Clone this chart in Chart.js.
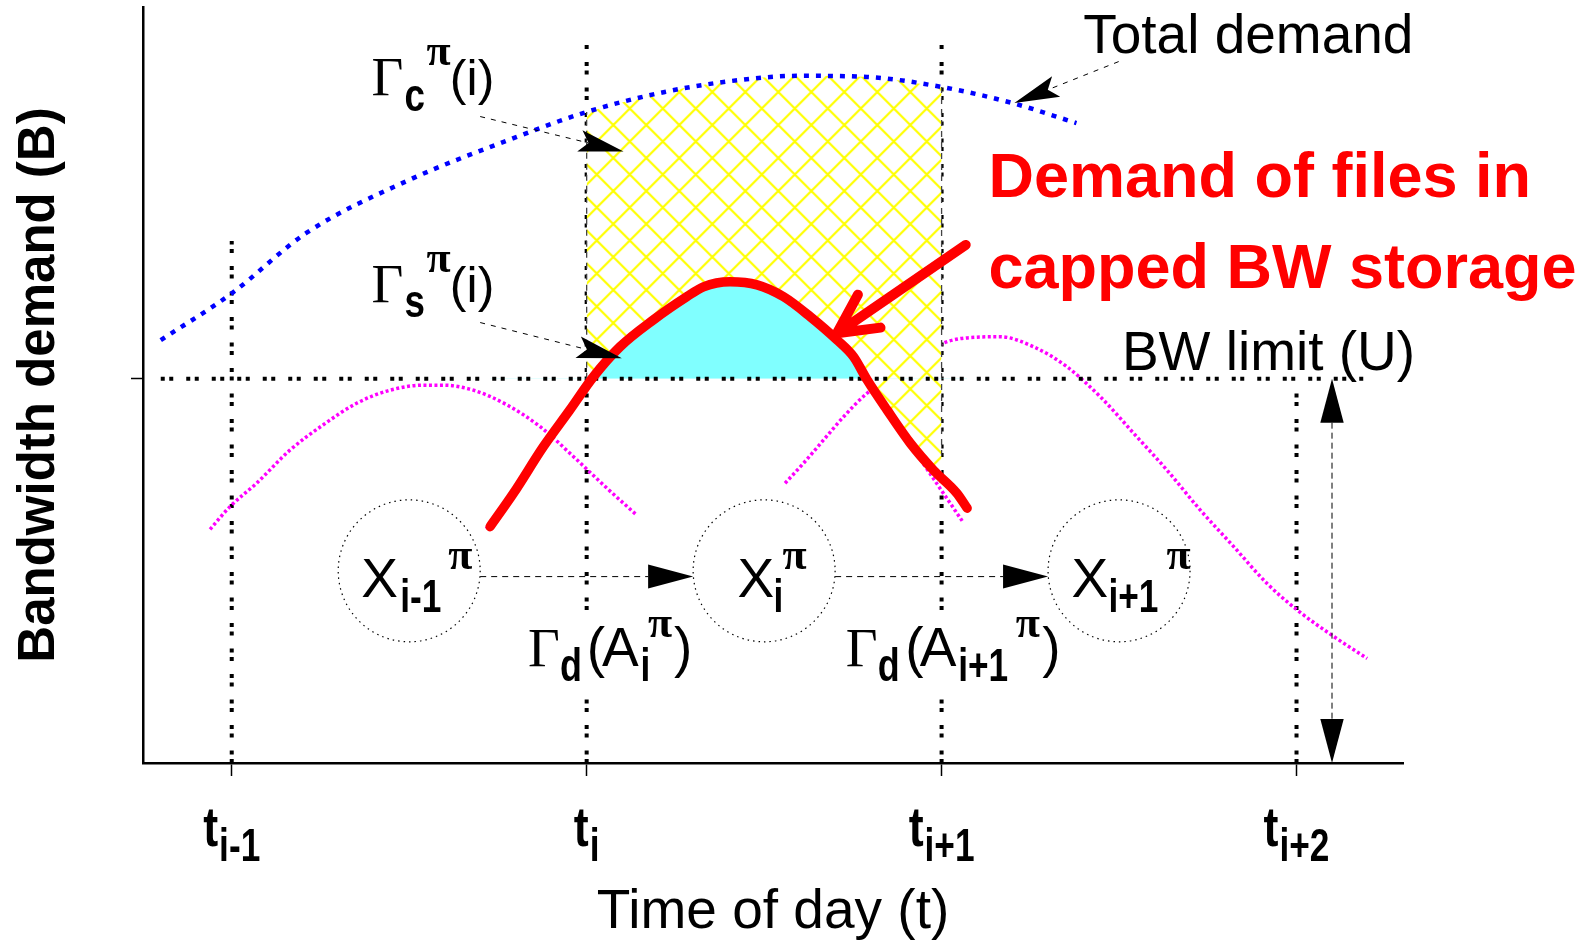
<!DOCTYPE html>
<html>
<head>
<meta charset="utf-8">
<script src="https://cdn.jsdelivr.net/npm/chart.js@4.4.1/dist/chart.umd.min.js"></script>
<style>
  html, body { margin: 0; padding: 0; background: #fff; }
  #wrap { width: 1592px; height: 944px; position: relative; }
</style>
</head>
<body>
<div id="wrap"><canvas id="chart"></canvas></div>
<script>
// x axis: time slots t_{i-1} .. t_{i+2}
const tickPositions = [1, 2, 3, 4];
const tickSubs = ['i-1', 'i', 'i+1', 'i+2'];
const bwLimit = 1;          // U
const yMax = 1.967;

// total demand (blue dotted)
const totalX = [0.80, 1.00, 1.21, 1.50, 1.78, 2.00, 2.22, 2.43, 2.60, 2.79, 3.00, 3.20, 3.38];
const totalY = [1.100, 1.222, 1.379, 1.517, 1.621, 1.694, 1.746, 1.777, 1.788, 1.785, 1.759, 1.717, 1.665];

// demand of files in capped BW storage (thick red)
const cappedX = [1.728, 1.794, 1.878, 1.953, 2.019, 2.094, 2.188, 2.282, 2.329, 2.404, 2.480, 2.555, 2.630, 2.705, 2.752, 2.790, 2.846, 2.912, 2.977, 3.043, 3.072];
const cappedY = [0.615, 0.702, 0.823, 0.919, 1.005, 1.083, 1.153, 1.213, 1.239, 1.252, 1.244, 1.213, 1.161, 1.101, 1.057, 0.997, 0.919, 0.832, 0.762, 0.702, 0.663];

// per file demand (magenta dotted)
const prevFileX = [0.939, 0.995, 1.070, 1.164, 1.258, 1.352, 1.446, 1.540, 1.596, 1.681, 1.775, 1.869, 1.963, 2.057, 2.141];
const prevFileY = [0.608, 0.667, 0.728, 0.814, 0.880, 0.936, 0.970, 0.983, 0.983, 0.970, 0.932, 0.875, 0.797, 0.715, 0.645];
const curFileX = [1.717, 1.794, 1.953, 2.094, 2.282, 2.404, 2.555, 2.705, 2.846, 2.977, 3.058];
const curFileY = [0.609, 0.702, 0.919, 1.083, 1.213, 1.252, 1.213, 1.101, 0.919, 0.740, 0.630];
const nextFileX = [2.559, 2.611, 2.667, 2.724, 2.790, 3.004, 3.100, 3.165, 3.259, 3.353, 3.447, 3.541, 3.635, 3.729, 3.823, 3.917, 4.002, 4.105, 4.199];
const nextFileY = [0.728, 0.780, 0.840, 0.901, 0.962, 1.092, 1.108, 1.109, 1.083, 1.031, 0.953, 0.858, 0.762, 0.658, 0.563, 0.467, 0.398, 0.329, 0.272];

// vertical slot lines (top end of each) and BW limit line span
const slotLineTop = [1.358, 1.876, 1.876, 0.963];
const bwLineX = [0.80, 4.197];
const hatchBottomRight = 0.80;

// states X_{i-1}, X_i, X_{i+1}
const stateX = [1.5, 2.5, 3.5];
const stateY = 0.5;
const stateR = 0.2;

const SANS = "'Liberation Sans', Arial, sans-serif";
const SERIF = "'Liberation Serif', 'Times New Roman', serif";
const fMain = `55px ${SANS}`;
const fGamma = `55px ${SERIF}`;
const fSub = `bold 46px ${SANS}`;     // c, s, d
const fIdx = `bold 47px ${SANS}`;     // i, i-1, i+1 ...
const fPi = `bold 44px ${SERIF}`;
const fParen = `50px ${SANS}`;
const fTick = `bold 56px ${SANS}`;
const idxScale = 0.75;

const pts = (xs, ys) => xs.map((x, i) => ({x, y: ys[i]}));

// yellow cross hatch
const canvas = document.getElementById('chart');
const tile = document.createElement('canvas');
const S = 33;
tile.width = S; tile.height = S;
const tctx = tile.getContext('2d');
tctx.fillStyle = '#fff';
tctx.fillRect(0, 0, S, S);
tctx.strokeStyle = '#ffff00';
tctx.lineWidth = 2.2;
for (let k = -1; k <= 1; k++) {
  tctx.beginPath();
  tctx.moveTo(k * S, 0); tctx.lineTo(k * S + S, S);
  tctx.moveTo(k * S + S, 0); tctx.lineTo(k * S, S);
  tctx.stroke();
}
const hatch = canvas.getContext('2d').createPattern(tile, 'repeat');
hatch.setTransform(new DOMMatrix().translateSelf(19.3, 26));

const totalPts = pts(totalX, totalY);
const hatchTop = totalPts.filter(p => p.x >= tickPositions[1] && p.x <= tickPositions[2]);
const hatchEdge = [
  {x: tickPositions[1], y: bwLimit}, {x: tickPositions[1], y: hatchTop[0].y}, {x: tickPositions[1], y: null},
  {x: tickPositions[2], y: hatchTop[hatchTop.length - 1].y}, {x: tickPositions[2], y: hatchBottomRight}
];
const slotLines = tickPositions.flatMap((t, i) => [{x: t, y: 0}, {x: t, y: slotLineTop[i]}, {x: t, y: null}]);

// annotations
const gammaRuns = sub => [
  {t: 'Γ', f: fGamma, dx: 0}, {t: sub, f: fSub, dx: 33, dy: 15.5, sx: 0.8},
  {t: 'π', f: fPi, dx: 55, dy: -30}, {t: '(i)', f: fParen, dx: 78.3}
];
const labels = [
  {at: [1.394, 1.738], runs: gammaRuns('c')},
  {at: [1.394, 1.200], runs: gammaRuns('s')},
  {at: [1.835, 0.253], bg: [168, 86], runs: [{t: 'Γ', f: fGamma, dx: 0}, {t: 'd', f: fSub, dx: 32, dy: 15.5, sx: 0.78}, {t: '(', f: fMain, dx: 58.7}, {t: 'A', f: fMain, dx: 74}, {t: 'i', f: fIdx, dx: 112.5, dy: 15.5, sx: idxScale}, {t: 'π', f: fPi, dx: 120, dy: -29}, {t: ')', f: fMain, dx: 146}]},
  {at: [2.730, 0.253], bg: [216, 86], runs: [{t: 'Γ', f: fGamma, dx: 0}, {t: 'd', f: fSub, dx: 32, dy: 15.5, sx: 0.78}, {t: '(', f: fMain, dx: 59.4}, {t: 'A', f: fMain, dx: 73.9}, {t: 'i+1', f: fIdx, dx: 112.4, dy: 15.5, sx: idxScale}, {t: 'π', f: fPi, dx: 170, dy: -29}, {t: ')', f: fMain, dx: 196.4}]},
  {at: [1.365, 0.433], runs: [{t: 'X', f: fMain, dx: 0}, {t: 'i-1', f: fIdx, dx: 39, dy: 15.5, sx: idxScale}, {t: 'π', f: fPi, dx: 87, dy: -28}]},
  {at: [2.425, 0.433], runs: [{t: 'X', f: fMain, dx: 0}, {t: 'i', f: fIdx, dx: 36, dy: 15.5, sx: idxScale}, {t: 'π', f: fPi, dx: 45, dy: -28}]},
  {at: [3.366, 0.433], runs: [{t: 'X', f: fMain, dx: 0}, {t: 'i+1', f: fIdx, dx: 37, dy: 15.5, sx: idxScale}, {t: 'π', f: fPi, dx: 95, dy: -28}]},
  {at: [3.399, 1.847], runs: [{t: 'Total demand', f: fMain, dx: 0}]},
  {at: [3.508, 1.023], runs: [{t: 'BW limit (U)', f: fMain, dx: 0}]},
  {at: [3.132, 1.473], color: '#ff0000', runs: [{t: 'Demand of files in', f: `bold 63px ${SANS}`, dx: 0}]},
  {at: [3.132, 1.236], color: '#ff0000', runs: [{t: 'capped BW storage', f: `bold 63px ${SANS}`, dx: 0}]}
];
const pointerArrows = [
  {from: [1.700, 1.682], to: [2.104, 1.591]},
  {from: [1.700, 1.146], to: [2.099, 1.053]},
  {from: [3.499, 1.825], to: [3.205, 1.717]}
];
const transitionArrows = [
  {from: [stateX[0] + stateR, 0.485], to: [stateX[1] - stateR, 0.485]},
  {from: [stateX[1] + stateR, 0.485], to: [stateX[2] - stateR, 0.485]}
];
const rangeArrowX = 4.1;
const redArrow = {from: [3.068, 1.348], to: [2.705, 1.118]};

function drawRuns(ctx, x0, y0, runs) {
  runs.forEach(r => {
    ctx.save();
    ctx.font = r.f;
    ctx.translate(x0 + r.dx, y0 + (r.dy || 0));
    ctx.scale(r.sx || 1, 1);
    ctx.fillText(r.t, 0, 0);
    ctx.restore();
  });
}

function head(ctx, tx, ty, ang, len, hw, notch) {
  const c = Math.cos(ang), s = Math.sin(ang);
  const bx = tx - c * len, by = ty - s * len;
  ctx.beginPath();
  ctx.moveTo(tx, ty);
  ctx.lineTo(bx - s * hw, by + c * hw);
  ctx.lineTo(tx - c * (len - notch), ty - s * (len - notch));
  ctx.lineTo(bx + s * hw, by - c * hw);
  ctx.closePath();
  ctx.fill();
}

const annotate = {
  id: 'annotate',
  afterDatasetsDraw(chart) {
    const ctx = chart.ctx;
    const xs = chart.scales.x, ys = chart.scales.y;
    const P = (p) => [xs.getPixelForValue(p[0]), ys.getPixelForValue(p[1])];
    ctx.save();
    ctx.textBaseline = 'alphabetic';
    ctx.textAlign = 'left';

    // white boxes behind the transition labels
    labels.filter(l => l.bg).forEach(l => {
      const [x, y] = P(l.at);
      ctx.fillStyle = '#fff';
      ctx.fillRect(x - 4, y - 55, l.bg[0], l.bg[1]);
    });

    // state circles
    ctx.strokeStyle = '#000';
    ctx.lineWidth = 1.2;
    ctx.setLineDash([1.5, 4]);
    const rPx = xs.getPixelForValue(stateR) - xs.getPixelForValue(0);
    stateX.forEach(sx => {
      const [x, y] = P([sx, stateY]);
      ctx.beginPath();
      ctx.arc(x, y, rPx, 0, Math.PI * 2);
      ctx.stroke();
    });

    // pointer arrows (notched heads)
    ctx.fillStyle = '#000';
    pointerArrows.forEach(a => {
      const [x1, y1] = P(a.from), [x2, y2] = P(a.to);
      const ang = Math.atan2(y2 - y1, x2 - x1);
      ctx.setLineDash([5, 6]);
      ctx.lineWidth = 1;
      ctx.beginPath();
      ctx.moveTo(x1, y1);
      ctx.lineTo(x2 - Math.cos(ang) * 36, y2 - Math.sin(ang) * 36);
      ctx.stroke();
      ctx.setLineDash([]);
      head(ctx, x2, y2, ang, 45, 11, 9);
    });

    // transition arrows
    transitionArrows.forEach(a => {
      const [x1, y1] = P(a.from), [x2, y2] = P(a.to);
      ctx.setLineDash([6, 5]);
      ctx.lineWidth = 1;
      ctx.beginPath();
      ctx.moveTo(x1, y1);
      ctx.lineTo(x2 - 45, y2);
      ctx.stroke();
      ctx.setLineDash([]);
      head(ctx, x2, y2, 0, 45, 12, 0);
    });

    // U range arrow
    {
      const [x, yt] = P([rangeArrowX, bwLimit]);
      const yb = ys.getPixelForValue(0);
      ctx.setLineDash([6, 4]);
      ctx.lineWidth = 1;
      ctx.beginPath();
      ctx.moveTo(x, yt + 44);
      ctx.lineTo(x, yb - 44);
      ctx.stroke();
      ctx.setLineDash([]);
      head(ctx, x, yt, -Math.PI / 2, 44, 11.7, 0);
      head(ctx, x, yb, Math.PI / 2, 44, 11.7, 0);
    }

    // red arrow
    {
      const [x1, y1] = P(redArrow.from), [x2, y2] = P(redArrow.to);
      const back = Math.atan2(y1 - y2, x1 - x2);
      const arm = 44, spread = 27 * Math.PI / 180;
      ctx.strokeStyle = '#ff0000';
      ctx.lineWidth = 10;
      ctx.lineCap = 'round';
      ctx.lineJoin = 'round';
      ctx.beginPath();
      ctx.moveTo(x1, y1);
      ctx.lineTo(x2, y2);
      ctx.moveTo(x2 + Math.cos(back - spread) * arm, y2 + Math.sin(back - spread) * arm);
      ctx.lineTo(x2, y2);
      ctx.lineTo(x2 + Math.cos(back + spread) * arm, y2 + Math.sin(back + spread) * arm);
      ctx.stroke();
    }

    // text labels
    labels.forEach(l => {
      const [x, y] = P(l.at);
      ctx.fillStyle = l.color || '#000';
      drawRuns(ctx, x, y, l.runs);
    });

    // x tick labels t_{...}
    ctx.fillStyle = '#000';
    const yLab = chart.chartArea.bottom + 83;
    tickPositions.forEach((v, i) => {
      const x = xs.getPixelForValue(v);
      ctx.font = fTick;
      const w1 = ctx.measureText('t').width * 0.8;
      ctx.font = fIdx;
      const w2 = ctx.measureText(tickSubs[i]).width * idxScale;
      const left = x - (w1 + 1 + w2) / 2;
      drawRuns(ctx, left, yLab, [
        {t: 't', f: fTick, dx: 0, sx: 0.8},
        {t: tickSubs[i], f: fIdx, dx: w1 + 1, dy: 15, sx: idxScale}
      ]);
    });
    ctx.restore();
  }
};

const curve = {pointRadius: 0, cubicInterpolationMode: 'monotone', fill: false};
const magenta = {...curve, borderColor: '#ff00ff', borderWidth: 3.5, borderDash: [3, 2.5]};

new Chart(canvas, {
  type: 'line',
  data: {
    datasets: [
      // 0: capped demand (red)
      {...curve, data: pts(cappedX, cappedY), borderColor: '#ff0000', borderWidth: 9.5,
        borderCapStyle: 'round', borderJoinStyle: 'round', order: 1},
      // 1: file demand under the red curve
      {...magenta, data: pts(curFileX, curFileY), order: 2},
      // 2: total demand
      {...curve, data: totalPts, borderColor: '#0000ff', borderWidth: 4.5,
        borderDash: [5, 7], order: 3},
      // 3: BW limit
      {data: bwLineX.map(x => ({x, y: bwLimit})), borderColor: '#000', borderWidth: 4,
        borderDash: [4, 4.5, 4, 13], pointRadius: 0, fill: false, order: 4},
      // 4: part of capped demand above U (cyan)
      {...curve, data: pts(cappedX, cappedY), borderWidth: 0, borderColor: 'rgba(0,0,0,0)',
        fill: {target: {value: bwLimit}, above: '#80ffff', below: 'rgba(0,0,0,0)'}, order: 5},
      // 5: hatch patch edges
      {data: hatchEdge, borderColor: '#444', borderWidth: 1.3, borderDash: [6, 5],
        pointRadius: 0, fill: false, order: 6},
      // 6: hatch between total demand and capped demand over [t_i, t_i+1]
      {...curve, data: hatchTop, borderWidth: 0, borderColor: 'rgba(0,0,0,0)',
        backgroundColor: hatch, fill: 0, order: 7},
      // 7, 8: neighbouring file demands
      {...magenta, data: pts(prevFileX, prevFileY), order: 8},
      {...magenta, data: pts(nextFileX, nextFileY), order: 8},
      // 9: slot boundaries
      {data: slotLines, borderColor: '#000', borderWidth: 4, borderDash: [4, 4.5, 4, 13],
        pointRadius: 0, fill: false, order: 10}
    ]
  },
  options: {
    responsive: true,
    maintainAspectRatio: false,
    animation: false,
    events: [],
    layout: {padding: {left: 0, right: 189, top: 7, bottom: 0}},
    plugins: {legend: {display: false}, tooltip: {enabled: false}},
    scales: {
      x: {
        type: 'linear', min: 0.75, max: 4.30,
        afterBuildTicks: s => { s.ticks = tickPositions.map(v => ({value: v})); },
        afterFit: s => { s.height = 181; },
        ticks: {display: false},
        grid: {drawOnChartArea: false, drawTicks: true, tickLength: 13, tickColor: '#000', tickWidth: 1.5},
        border: {display: true, color: '#000', width: 2.5},
        title: {display: true, text: 'Time of day (t)', color: '#000',
          font: {family: SANS, size: 55, lineHeight: 1.1}, padding: {top: 0, bottom: 1}}
      },
      y: {
        type: 'linear', min: 0, max: yMax,
        afterBuildTicks: s => { s.ticks = [{value: bwLimit}]; },
        afterFit: s => { s.width = 143; },
        ticks: {display: false},
        grid: {drawOnChartArea: false, drawTicks: true, tickLength: 12, tickColor: '#000', tickWidth: 1.5},
        border: {display: true, color: '#000', width: 2.5},
        title: {display: true, text: 'Bandwidth demand (B)', color: '#000',
          font: {family: SANS, size: 51, weight: 'bold', lineHeight: 1.2}, padding: {top: 9, bottom: 0}}
      }
    }
  },
  plugins: [annotate]
});
</script>
</body>
</html>
